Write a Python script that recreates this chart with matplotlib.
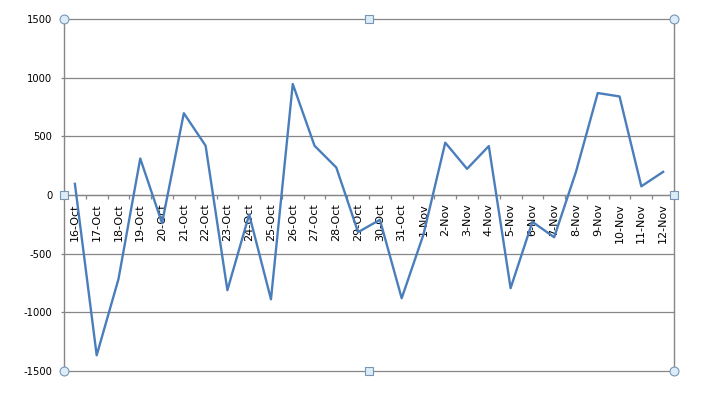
import matplotlib
matplotlib.use("Agg")
import matplotlib.pyplot as plt
import numpy as np

# categories and values
dates = ["16-Oct", "17-Oct", "18-Oct", "19-Oct", "20-Oct", "21-Oct", "22-Oct",
         "23-Oct", "24-Oct", "25-Oct", "26-Oct", "27-Oct", "28-Oct", "29-Oct",
         "30-Oct", "31-Oct", "1-Nov", "2-Nov", "3-Nov", "4-Nov", "5-Nov",
         "6-Nov", "7-Nov", "8-Nov", "9-Nov", "10-Nov", "11-Nov", "12-Nov"]
values = [95, -1366, -717, 311, -240, 697, 420,
          -811, -166, -889, 946, 420, 234, -317,
          -211, -880, -337, 446, 223, 417, -794,
          -229, -360, 197, 869, 840, 74, 197]
yticks = [-1500, -1000, -500, 0, 500, 1000, 1500]

GRID = "#868686"
LINE = "#4a7ebb"


def main():
    fig = plt.figure(figsize=(7.02, 3.96), dpi=100)
    W, H = 702, 396
    ax = fig.add_axes([64 / W, 1 - 371 / H, (674 - 64) / W, (371 - 19) / H])

    n = len(dates)
    x = np.arange(n)
    ax.plot(x, values, color=LINE, lw=1.7, zorder=3)

    ax.set_xlim(-0.5, n - 0.5)
    ax.set_ylim(yticks[0], yticks[-1])

    # gridlines (plus plot-area borders at top/bottom)
    for v in yticks:
        ax.axhline(v, color=GRID, lw=0.9, zorder=1, clip_on=False)

    for side in ["top", "right"]:
        ax.spines[side].set_visible(False)
    ax.spines["left"].set_color(GRID)
    ax.spines["left"].set_linewidth(1)
    ax.axvline(n - 0.5, color=GRID, lw=1, clip_on=False)

    # category axis crosses at zero
    ax.spines["bottom"].set_position(("data", 0))
    ax.spines["bottom"].set_color(GRID)
    ax.spines["bottom"].set_linewidth(0.9)
    ax.set_xticks(np.arange(n + 1) - 0.5)
    ax.set_xticklabels([])
    ax.tick_params(axis="x", which="major", length=3, width=0.9, color=GRID, direction="out")
    ax.set_xticks(x, minor=True)
    ax.set_xticklabels(dates, minor=True, rotation=90, fontsize=8)
    ax.tick_params(axis="x", which="minor", length=0, pad=6)

    ax.set_yticks(yticks)
    ax.set_yticklabels([str(v) for v in yticks], fontsize=7.2)
    ax.tick_params(axis="y", length=2.5, width=0.9, color=GRID, pad=6)

    # selection handles around the plot area
    kw = dict(transform=ax.transAxes, clip_on=False, zorder=5,
              markerfacecolor="#dcecf8", markeredgecolor="#7896b4", markeredgewidth=0.8)
    ax.plot([0, 1, 0, 1], [0, 0, 1, 1], "o", markersize=6.4, linestyle="none", **kw)
    ax.plot([0, 1, 0.5, 0.5], [0.5, 0.5, 0, 1], "s", markersize=5.2, linestyle="none", **kw)

    fig.savefig("out.png", dpi=100)


if __name__ == "__main__":
    main()
